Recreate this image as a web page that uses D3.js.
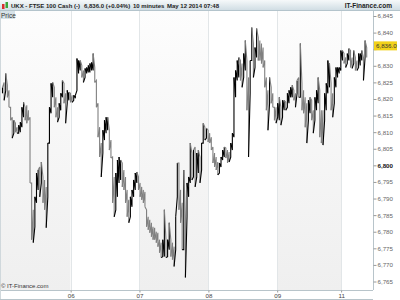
<!DOCTYPE html>
<html>
<head>
<meta charset="utf-8">
<script src="https://cdn.jsdelivr.net/npm/d3@7"></script>
<style>
  body { margin: 0; background: #fff; }
  svg { font-family: "Liberation Sans", Arial, sans-serif; display: block; }
</style>
</head>
<body>
<div id="chart"></div>
<script>
var width = 400, height = 300;

// 10 minute bars (sampled), high and low per sample
var highs = [6823.5,6825.0,6827.7,6824.1,6822.6,6817.5,6814.5,6813.6,6812.7,6811.5,
  6812.1,6813.0,6817.5,6819.0,6817.5,6818.1,6816.6,6814.5,6794.7,6786.6,
  6790.5,6797.7,6798.6,6799.5,6801.0,6796.5,6795.6,6793.5,6806.7,6817.5,
  6824.7,6825.0,6823.5,6820.5,6817.5,6818.7,6821.7,6825.6,6824.7,6821.7,
  6822.6,6822.0,6821.7,6821.1,6821.1,6821.1,6832.2,6831.6,6831.6,6830.1,
  6828.6,6829.2,6829.5,6830.1,6830.7,6831.0,6833.7,6829.5,6825.6,6818.7,
  6811.5,6806.7,6810.6,6813.6,6814.5,6814.5,6810.6,6807.6,6802.5,6796.5,
  6797.7,6801.6,6802.5,6801.6,6800.7,6798.6,6796.5,6792.6,6789.6,6790.5,
  6792.6,6795.6,6797.7,6798.0,6796.5,6794.7,6793.5,6792.6,6792.0,6786.6,
  6784.5,6783.6,6782.7,6781.5,6781.2,6780.0,6779.7,6777.6,6776.7,6777.6,
  6786.6,6777.6,6777.6,6782.7,6777.6,6776.7,6775.5,6784.5,6800.7,6800.7,
  6792.6,6788.7,6798.6,6784.5,6794.7,6796.5,6806.7,6803.7,6804.6,6805.5,
  6803.7,6804.6,6802.5,6806.7,6812.7,6811.5,6811.2,6810.6,6809.7,6808.5,
  6805.5,6803.7,6802.5,6801.0,6800.7,6802.5,6804.6,6805.5,6805.2,6804.6,
  6804.0,6806.7,6809.7,6826.5,6828.6,6831.6,6832.5,6831.6,6830.7,6833.7,
  6837.6,6831.6,6826.5,6831.6,6841.5,6836.7,6835.5,6841.2,6838.5,6837.6,
  6836.7,6835.5,6831.6,6826.5,6822.6,6826.5,6823.5,6821.7,6817.5,6817.5,
  6818.7,6820.5,6817.5,6819.6,6819.6,6819.0,6821.7,6822.6,6823.5,6824.1,
  6822.6,6821.7,6825.6,6826.5,6836.7,6824.7,6822.6,6820.5,6818.7,6819.6,
  6820.5,6819.6,6816.6,6820.5,6822.6,6826.5,6822.6,6816.6,6816.6,6821.7,
  6824.7,6831.6,6830.7,6824.7,6821.7,6826.5,6829.5,6829.5,6829.5,6834.6,
  6834.6,6833.7,6832.5,6833.7,6835.2,6834.6,6832.5,6834.6,6832.5,6831.6,
  6833.7,6833.7,6834.6,6832.5,6837.6,6835.5];
var lows = [6821.7,6819.6,6822.6,6820.5,6817.5,6813.6,6808.2,6809.7,6810.0,6809.7,
  6809.7,6810.0,6811.5,6814.5,6813.6,6812.7,6813.6,6794.7,6777.6,6776.7,
  6781.5,6788.7,6792.6,6790.5,6794.7,6788.7,6786.6,6781.2,6790.5,6806.7,
  6815.7,6820.5,6817.5,6814.5,6813.0,6814.5,6816.6,6820.5,6818.7,6812.7,
  6818.7,6819.6,6819.0,6819.0,6819.6,6820.2,6822.6,6827.7,6828.6,6826.5,
  6825.0,6826.5,6827.7,6828.0,6828.0,6828.6,6828.6,6825.0,6817.5,6808.5,
  6802.5,6796.5,6803.7,6807.6,6809.7,6810.6,6804.6,6802.2,6788.7,6784.5,
  6786.6,6790.5,6794.7,6795.6,6793.5,6792.6,6788.7,6784.5,6782.7,6784.5,
  6787.5,6790.5,6792.6,6794.7,6792.6,6790.5,6789.6,6788.7,6787.5,6781.5,
  6780.6,6779.7,6778.5,6777.6,6777.6,6776.7,6775.5,6773.7,6772.2,6772.5,
  6772.5,6772.2,6772.5,6774.6,6772.5,6771.6,6769.5,6774.6,6790.5,6786.6,
  6782.7,6774.6,6774.6,6766.2,6784.5,6790.5,6794.7,6795.6,6796.5,6793.5,
  6796.5,6797.7,6794.7,6798.6,6806.7,6807.6,6808.2,6807.0,6806.7,6804.6,
  6800.7,6799.5,6798.6,6797.1,6797.7,6799.5,6801.6,6802.5,6802.2,6800.7,
  6801.0,6802.5,6804.6,6808.5,6820.5,6825.6,6826.5,6825.6,6823.5,6826.5,
  6828.6,6816.6,6802.5,6821.7,6831.6,6826.5,6829.5,6832.5,6831.6,6831.6,
  6830.7,6829.5,6823.5,6816.6,6810.6,6818.7,6818.7,6817.5,6813.6,6812.7,
  6814.5,6813.6,6812.1,6814.5,6816.6,6816.6,6817.5,6818.7,6820.5,6820.5,
  6819.6,6817.5,6821.7,6820.5,6820.5,6816.6,6815.7,6811.5,6806.7,6813.6,
  6815.7,6813.6,6809.7,6813.6,6816.6,6818.7,6808.5,6806.7,6806.1,6813.6,
  6816.6,6821.7,6823.5,6816.6,6814.5,6818.7,6823.5,6826.5,6827.7,6828.6,
  6831.6,6830.7,6829.5,6830.7,6831.6,6829.5,6829.2,6830.7,6828.6,6828.6,
  6829.5,6830.1,6831.6,6825.6,6832.5,6832.5];

// session starts (bar index) and their labels
var dayLabels = ["06", "07", "08", "09", "11"];
var dayStarts = [42.1, 84.6, 127.2, 169.7, 209.2];

var priceTicks = d3.range(6765, 6846, 5);
var lastPrice = 6836.0;

var plot = { left: 1, right: 373, top: 11, bottom: 290 };

var svg = d3.select("#chart").append("svg")
  .attr("width", width)
  .attr("height", height);

var defs = svg.append("defs");
var hg = defs.append("linearGradient").attr("id", "hdr")
  .attr("x1", 0).attr("y1", 0).attr("x2", 0).attr("y2", 1);
hg.append("stop").attr("offset", "0%").attr("stop-color", "#f6f9fa");
hg.append("stop").attr("offset", "100%").attr("stop-color", "#cddbe2");
var bg = defs.append("linearGradient").attr("id", "band")
  .attr("x1", 0).attr("y1", 0).attr("x2", 0).attr("y2", 1);
bg.append("stop").attr("offset", "0%").attr("stop-color", "#fdfdfd");
bg.append("stop").attr("offset", "100%").attr("stop-color", "#efefef");

var x = d3.scaleLinear()
  .domain([0, highs.length - 1])
  .range([2.5, 366.7]);

var y = d3.scaleLinear()
  .domain([6765, 6845])
  .range([281.5, 16]);

// alternating session bands
var edges = [x.invert(plot.left)].concat(dayStarts).concat([x.invert(plot.right)]);
svg.selectAll(".band")
  .data(d3.range(edges.length - 1))
  .enter().append("rect")
    .attr("x", function(i) { return x(edges[i]); })
    .attr("y", plot.top)
    .attr("width", function(i) { return x(edges[i + 1]) - x(edges[i]); })
    .attr("height", plot.bottom - plot.top)
    .attr("fill", function(i) { return i % 2 === 0 ? "url(#band)" : "#fff"; });

svg.selectAll(".grid")
  .data(dayStarts)
  .enter().append("line")
    .attr("x1", function(d) { return Math.round(x(d)) + 0.5; })
    .attr("x2", function(d) { return Math.round(x(d)) + 0.5; })
    .attr("y1", plot.top)
    .attr("y2", plot.bottom)
    .attr("stroke", "#e2e6e8");

// price trace: each sample runs low->high (up) or high->low (down),
// joined to the end of the previous one
function isUp(i) {
  return i === 0 || (highs[i] + lows[i]) >= (highs[i - 1] + lows[i - 1]);
}
function startVal(i) { return isUp(i) ? lows[i] : highs[i]; }
function endVal(i) { return isUp(i) ? highs[i] : lows[i]; }

svg.append("g").selectAll("path")
  .data(highs)
  .enter().append("path")
    .attr("d", function(d, i) {
      var p = d3.path();
      if (i > 0) {
        p.moveTo(x(i - 1), y(endVal(i - 1)));
        p.lineTo(x(i), y(startVal(i)));
      } else {
        p.moveTo(x(i), y(startVal(i)));
      }
      p.lineTo(x(i), y(endVal(i)));
      return p.toString();
    })
    .attr("fill", "none")
    .attr("stroke", function(d, i) { return isUp(i) ? "#000" : "#808080"; })
    .attr("stroke-width", 1.1)
    .attr("stroke-linejoin", "miter");

// header
svg.append("rect")
  .attr("x", 0).attr("y", 0).attr("width", width).attr("height", 11)
  .attr("fill", "url(#hdr)");
svg.append("line")
  .attr("x1", 0).attr("x2", width).attr("y1", 10.5).attr("y2", 10.5)
  .attr("stroke", "#b4c4cc");

// little candle icon
svg.append("rect").attr("x", 2).attr("y", 4).attr("width", 2.5).attr("height", 5).attr("fill", "#d93030");
svg.append("rect").attr("x", 5.5).attr("y", 2).attr("width", 2.5).attr("height", 6).attr("fill", "#3aa83a");

var head = svg.append("g")
  .attr("font-size", 6)
  .attr("font-weight", "bold")
  .attr("fill", "#1d1d1d");
head.append("text").attr("x", 11).attr("y", 8).text("UKX - FTSE 100 Cash (-)");
head.append("text").attr("x", 84).attr("y", 8).text("6,836.0 (+0.04%)");
head.append("text").attr("x", 133).attr("y", 8).text("10 minutes");
head.append("text").attr("x", 167).attr("y", 8).text("May 12 2014 07:48");
head.append("text").attr("x", 392).attr("y", 8).attr("text-anchor", "end")
  .attr("font-size", 6.5)
  .text("IT-Finance.com");

// "Price" tag
svg.append("rect")
  .attr("x", 0).attr("y", 11).attr("width", 15).attr("height", 8)
  .attr("fill", "#d6e2e8");
svg.append("text")
  .attr("x", 1).attr("y", 17.5)
  .attr("font-size", 6.5)
  .attr("fill", "#333")
  .text("Price");

// frame
svg.append("line")
  .attr("x1", plot.right + 0.5).attr("x2", plot.right + 0.5)
  .attr("y1", plot.top).attr("y2", plot.bottom)
  .attr("stroke", "#b8c4ca");
svg.append("line")
  .attr("x1", 0).attr("x2", plot.right)
  .attr("y1", plot.bottom + 0.5).attr("y2", plot.bottom + 0.5)
  .attr("stroke", "#b8c4ca");
svg.append("line")
  .attr("x1", 0.5).attr("x2", 0.5)
  .attr("y1", plot.top).attr("y2", 299)
  .attr("stroke", "#d0d8dc");
svg.append("line")
  .attr("x1", 0).attr("x2", plot.right)
  .attr("y1", 299.5).attr("y2", 299.5)
  .attr("stroke", "#b8c4ca");

// price axis (the label under the last-price tag is covered by it)
var yAxis = svg.append("g")
  .attr("transform", "translate(" + (plot.right + 0.5) + ",0)")
  .call(d3.axisRight(y).tickValues(priceTicks).tickSize(3)
    .tickFormat(function(d) { return Math.abs(y(d) - y(lastPrice)) < 7 ? "" : d3.format(",")(d); }));
yAxis.select(".domain").remove();
yAxis.selectAll("line").attr("stroke", "#999");
yAxis.selectAll("text")
  .attr("x", 4)
  .attr("font-size", 6.2)
  .attr("font-family", "Liberation Sans, Arial, sans-serif")
  .attr("fill", "#666")
  .filter(function(d) { return d === 6800; })
    .attr("font-weight", "bold")
    .attr("fill", "#111");

// last price tag
svg.append("rect")
  .attr("x", plot.right + 1).attr("y", y(lastPrice) - 4.5)
  .attr("width", 23).attr("height", 9)
  .attr("fill", "#f2d21a");
svg.append("text")
  .attr("x", plot.right + 3).attr("y", y(lastPrice) + 2.3)
  .attr("font-size", 6.2)
  .attr("fill", "#333")
  .text(d3.format(",.1f")(lastPrice));

// session axis
var xAxis = svg.append("g")
  .attr("transform", "translate(0," + (plot.bottom + 0.5) + ")")
  .call(d3.axisBottom(x).tickValues(dayStarts).tickSize(2)
    .tickFormat(function(d, i) { return dayLabels[i]; }));
xAxis.select(".domain").remove();
xAxis.selectAll("line").attr("stroke", "#999");
xAxis.selectAll("text")
  .attr("y", 3)
  .attr("font-size", 6.2)
  .attr("font-family", "Liberation Sans, Arial, sans-serif")
  .attr("fill", "#444");

svg.append("text")
  .attr("x", 1).attr("y", 288)
  .attr("font-size", 6)
  .attr("fill", "#333")
  .text("\u00a9 IT-Finance.com");
</script>
</body>
</html>
